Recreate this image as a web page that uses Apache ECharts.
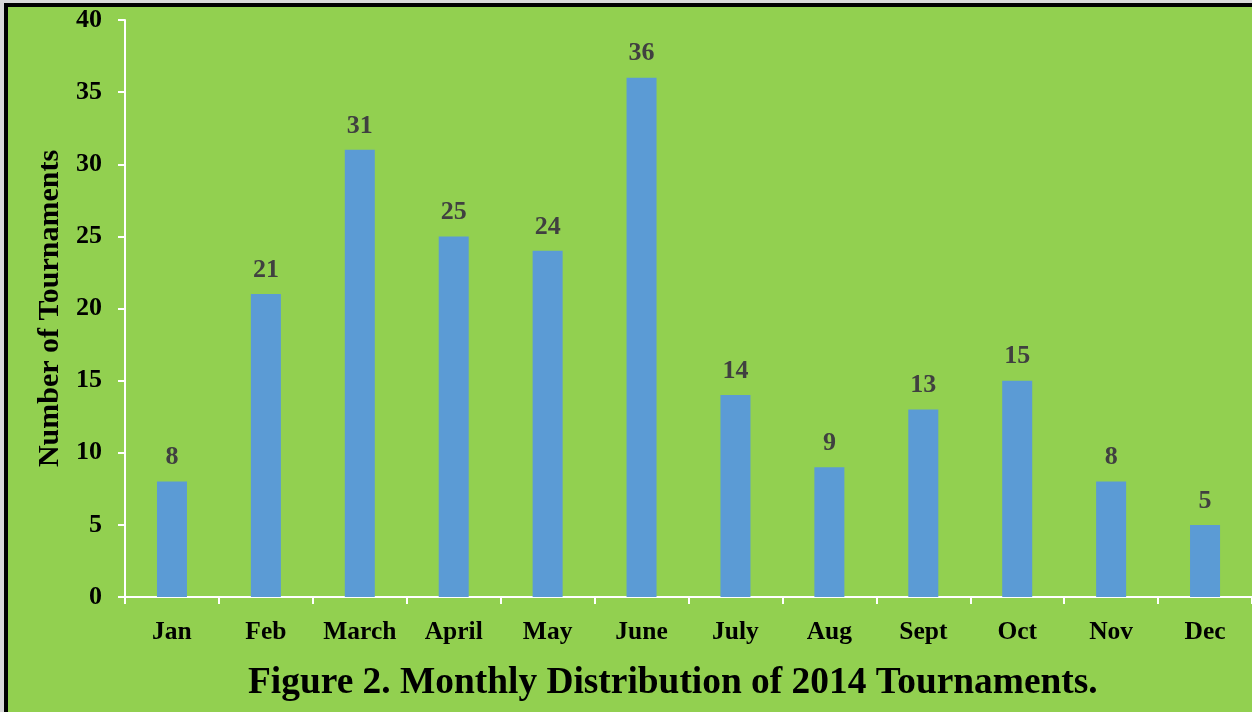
<!DOCTYPE html>
<html>
<head>
<meta charset="utf-8">
<script src="https://cdn.jsdelivr.net/npm/echarts@6/dist/echarts.min.js"></script>
<style>
  html, body { margin: 0; padding: 0; background: #d9d9d9; width: 1252px; height: 712px; overflow: hidden; }
  #main {
    position: absolute; left: 4px; top: 3px;
    width: 1248px; height: 709px;
    box-sizing: border-box;
    border-left: 4px solid #000; border-top: 4px solid #000;
    background: #92d050;
  }
</style>
</head>
<body>
<div id="main"></div>
<script>
var months = ['Jan', 'Feb', 'March', 'April', 'May', 'June', 'July', 'Aug', 'Sept', 'Oct', 'Nov', 'Dec'];
var tournaments = [8, 21, 31, 25, 24, 36, 14, 9, 13, 15, 8, 5];
var yTicks = [0, 5, 10, 15, 20, 25, 30, 35, 40];

var serif = '"Liberation Serif", "Times New Roman", serif';
var myChart = echarts.init(document.getElementById('main'));

option = {
    backgroundColor: '#92d050',
    animation: false,
    // 标题放在图的下面
    title: {
        text: 'Figure 2. Monthly Distribution of 2014 Tournaments.',
        left: 240,
        top: 658,
        padding: 0,
        textStyle: { fontFamily: serif, fontSize: 37.4, fontWeight: 'bold', color: '#000' }
    },
    grid: { left: 117, top: 13, right: 0, bottom: 115 },
    xAxis: {
        type: 'category',
        data: months,
        axisLine: { lineStyle: { color: '#fff', width: 2 } },
        axisTick: { show: true, length: 7, lineStyle: { color: '#fff', width: 2 } },
        axisLabel: { margin: 22, fontFamily: serif, fontSize: 25.5, fontWeight: 'bold', color: '#000', interval: 0 }
    },
    yAxis: {
        type: 'value',
        min: yTicks[0],
        max: yTicks[yTicks.length - 1],
        interval: 5,
        name: 'Number of Tournaments',
        nameLocation: 'middle',
        nameGap: 56,
        nameTextStyle: { fontFamily: serif, fontSize: 30, fontWeight: 'bold', color: '#000' },
        axisLine: { show: true, lineStyle: { color: '#fff', width: 2 } },
        axisTick: { show: true, length: 7, lineStyle: { color: '#fff', width: 2 } },
        splitLine: { show: false },
        axisLabel: { margin: 23, fontFamily: serif, fontSize: 26, fontWeight: 'bold', color: '#000' }
    },
    series: [{
        type: 'bar',
        data: tournaments,
        barWidth: 30,
        itemStyle: { color: '#5b9bd5' },
        label: {
            show: true,
            position: 'top',
            distance: 11,
            fontFamily: serif,
            fontSize: 26,
            fontWeight: 'bold',
            color: '#404040'
        }
    }]
};
myChart.setOption(option);
</script>
</body>
</html>
